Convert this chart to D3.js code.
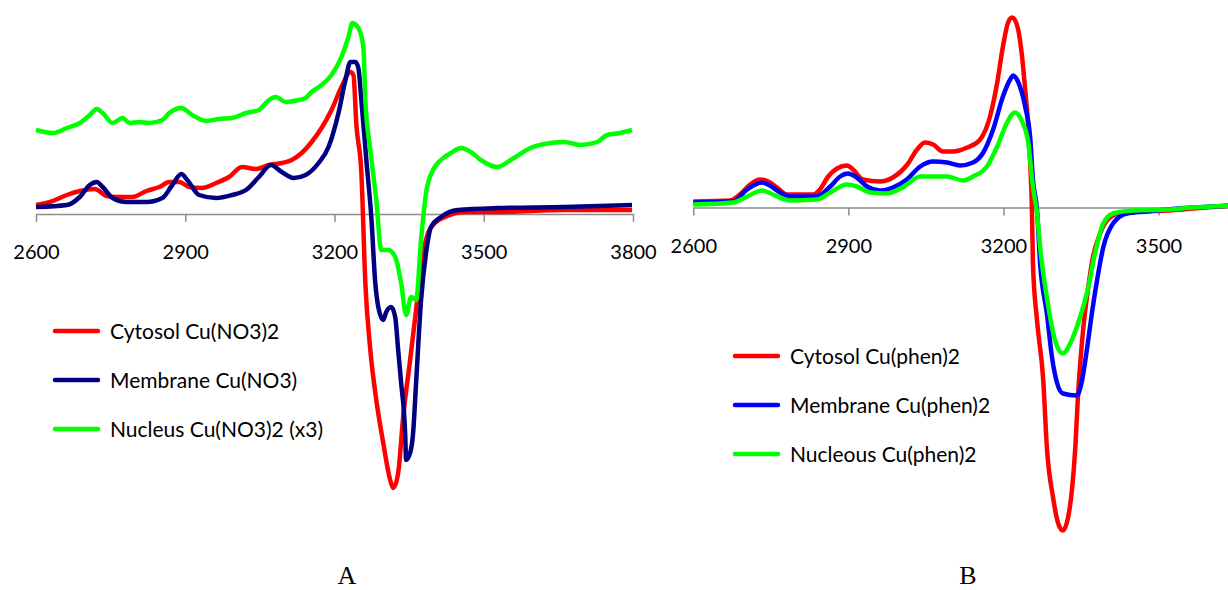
<!DOCTYPE html>
<html>
<head>
<meta charset="utf-8">
<script src="https://cdn.jsdelivr.net/npm/d3@7"></script>
<style>
  body { margin: 0; background: #fff; }
  svg { display: block; }
</style>
</head>
<body>
<svg id="chart" width="1228" height="590"></svg>
<script>
// magnetic field ticks
var ticksA = [2600, 2900, 3200, 3500, 3800];
var ticksB = [2600, 2900, 3200, 3500];

// panel A : Cu(NO3)2, [field, intensity (a.u.)]
var cytosolNO3 = [[2600,0.09],[2628,0.12],[2662,0.19],[2688,0.23],[2718,0.25],[2742,0.18],[2762,0.17],[2794,0.17],
  [2822,0.23],[2848,0.27],[2868,0.32],[2888,0.32],[2908,0.27],[2934,0.26],[2962,0.31],[2988,0.37],[3014,0.47],
  [3042,0.45],[3068,0.49],[3094,0.51],[3114,0.54],[3134,0.61],[3154,0.72],[3174,0.86],[3194,1.04],[3214,1.27],
  [3232,1.42],[3238,1.39],[3244,0.89],[3254,0.41],[3262,-0.69],[3272,-1.36],[3284,-1.86],[3298,-2.29],[3312,-2.66],
  [3318,-2.74],[3328,-2.59],[3338,-2.03],[3352,-1.46],[3364,-0.96],[3374,-0.53],[3388,-0.19],[3402,-0.09],
  [3422,-0.03],[3462,0.02],[3528,0.02],[3662,0.04],[3798,0.04]];
var membraneNO3 = [[2600,0.07],[2662,0.09],[2688,0.17],[2708,0.29],[2722,0.32],[2734,0.27],[2754,0.16],[2782,0.12],
  [2822,0.12],[2854,0.16],[2874,0.29],[2892,0.40],[2904,0.34],[2928,0.19],[2962,0.16],[2994,0.19],[3022,0.24],
  [3048,0.37],[3072,0.49],[3094,0.42],[3118,0.36],[3142,0.39],[3168,0.51],[3188,0.67],[3208,1.01],[3222,1.34],
  [3232,1.52],[3242,1.52],[3248,1.46],[3254,1.14],[3264,0.54],[3274,-0.03],[3282,-0.69],[3288,-0.93],[3298,-1.06],
  [3304,-0.98],[3314,-0.93],[3322,-1.03],[3328,-1.36],[3334,-1.69],[3342,-2.19],[3344,-2.46],[3352,-2.39],
  [3358,-2.19],[3364,-1.69],[3374,-0.86],[3384,-0.39],[3394,-0.13],[3414,-0.03],[3448,0.04],[3528,0.06],
  [3662,0.07],[3798,0.09]];
var nucleusNO3 = [[2600,0.84],[2634,0.81],[2662,0.86],[2688,0.91],[2708,0.99],[2722,1.05],[2734,1.01],[2754,0.91],
  [2774,0.96],[2788,0.91],[2808,0.92],[2828,0.91],[2854,0.94],[2868,1.01],[2892,1.06],[2914,0.99],[2942,0.93],
  [2968,0.95],[2994,0.96],[3022,1.01],[3048,1.04],[3068,1.14],[3082,1.17],[3102,1.12],[3128,1.14],[3142,1.16],
  [3154,1.22],[3174,1.29],[3194,1.39],[3214,1.57],[3228,1.77],[3236,1.91],[3248,1.86],[3258,1.67],[3262,1.14],
  [3272,0.64],[3284,0.14],[3294,-0.36],[3308,-0.36],[3322,-0.43],[3334,-0.69],[3344,-1.01],[3354,-0.83],
  [3364,-0.86],[3374,-0.26],[3384,0.21],[3398,0.44],[3414,0.54],[3434,0.61],[3454,0.66],[3474,0.62],[3494,0.54],
  [3528,0.47],[3554,0.54],[3594,0.66],[3634,0.71],[3662,0.72],[3694,0.69],[3728,0.72],[3748,0.79],[3774,0.81],
  [3798,0.84]];

// panel B : Cu(phen)2
var cytosolPhen = [[2600,0.06],[2671,0.07],[2690,0.13],[2710,0.23],[2729,0.28],[2745,0.26],[2762,0.20],[2781,0.13],
  [2832,0.13],[2845,0.18],[2861,0.31],[2878,0.39],[2897,0.42],[2909,0.38],[2928,0.28],[2961,0.26],[2986,0.30],
  [3014,0.43],[3033,0.58],[3048,0.65],[3064,0.63],[3083,0.56],[3102,0.56],[3130,0.60],[3155,0.68],[3174,0.91],
  [3188,1.25],[3199,1.61],[3209,1.85],[3217,1.90],[3227,1.81],[3236,1.51],[3242,1.18],[3248,0.81],[3252,0.41],
  [3255,0.01],[3257,-0.56],[3265,-1.13],[3277,-1.73],[3284,-2.40],[3296,-2.90],[3306,-3.16],[3315,-3.23],
  [3325,-3.10],[3333,-2.80],[3339,-2.40],[3344,-1.90],[3354,-1.23],[3364,-0.80],[3373,-0.50],[3387,-0.26],
  [3406,-0.10],[3431,-0.05],[3470,-0.04],[3516,-0.03],[3567,-0.01],[3640,0.02]];
var membranePhen = [[2600,0.05],[2677,0.06],[2704,0.18],[2733,0.25],[2748,0.22],[2768,0.15],[2787,0.11],[2839,0.11],
  [2865,0.21],[2884,0.31],[2899,0.34],[2916,0.30],[2936,0.21],[2961,0.17],[2986,0.20],[3013,0.28],[3039,0.41],
  [3064,0.46],[3091,0.45],[3116,0.42],[3141,0.45],[3161,0.55],[3180,0.78],[3199,1.11],[3213,1.28],[3219,1.32],
  [3228,1.26],[3242,1.01],[3252,0.68],[3257,0.28],[3265,-0.03],[3271,-0.56],[3284,-1.06],[3294,-1.50],
  [3304,-1.76],[3315,-1.86],[3342,-1.88],[3352,-1.73],[3362,-1.40],[3371,-1.06],[3381,-0.73],[3393,-0.40],
  [3412,-0.16],[3439,-0.06],[3478,-0.04],[3516,-0.02],[3567,0.00],[3640,0.02]];
var nucleousPhen = [[2600,0.03],[2677,0.05],[2704,0.11],[2733,0.17],[2754,0.13],[2787,0.07],[2839,0.08],[2865,0.15],
  [2897,0.23],[2916,0.21],[2942,0.15],[2974,0.14],[3005,0.20],[3039,0.31],[3064,0.31],[3091,0.31],[3122,0.27],
  [3141,0.31],[3168,0.41],[3188,0.61],[3207,0.85],[3222,0.95],[3236,0.86],[3248,0.65],[3257,0.21],[3265,-0.06],
  [3271,-0.40],[3284,-0.90],[3300,-1.33],[3315,-1.46],[3329,-1.36],[3348,-1.10],[3364,-0.80],[3377,-0.46],
  [3393,-0.16],[3412,-0.06],[3451,-0.03],[3516,-0.02],[3567,0.00],[3640,0.02]];

var namesA = ["Cytosol Cu(NO3)2", "Membrane Cu(NO3)", "Nucleus Cu(NO3)2 (x3)"];
var namesB = ["Cytosol Cu(phen)2", "Membrane Cu(phen)2", "Nucleous Cu(phen)2"];

var svg = d3.select("#chart");
svg.append("rect").attr("width", 1228).attr("height", 590).attr("fill", "#fff");

var FONT = "Lato, 'Open Sans', sans-serif";

function drawPanel(p)
{
    var x = d3.scaleLinear().domain([2600, 3800]).range(p.xRange);
    var y = d3.scaleLinear().domain([-3.5, 2]).range([p.axisY + 350, p.axisY - 200]);

    var g = svg.append("g");

    // x axis crossing at zero
    var axis = d3.axisBottom(x)
        .tickValues(p.ticks)
        .tickFormat(d3.format("d"))
        .tickSize(8)
        .tickSizeOuter(0)
        .tickPadding(23);
    var ax = g.append("g")
        .attr("transform", "translate(0," + p.axisY + ")")
        .call(axis);
    ax.select(".domain").attr("stroke", "#8c8c8c").attr("stroke-width", 1.5);
    ax.selectAll(".tick line").attr("stroke", "#8c8c8c").attr("stroke-width", 1.5);
    ax.selectAll(".tick text")
        .attr("fill", "#000")
        .style("font-family", FONT)
        .style("font-size", "20px");

    var line = d3.line()
        .x(function(d) { return x(d[0]); })
        .y(function(d) { return y(d[1]); })
        .curve(d3.curveMonotoneX);

    p.series.forEach(function(s, i) {
        g.append("path")
            .datum(s)
            .attr("d", line)
            .attr("fill", "none")
            .attr("stroke", p.colors[i])
            .attr("stroke-width", 4.5)
            .attr("stroke-linejoin", "round");
    });

    // legend
    var lg = g.append("g").attr("transform", "translate(" + p.legend[0] + "," + p.legend[1] + ")");
    p.names.forEach(function(n, i) {
        var row = lg.append("g").attr("transform", "translate(0," + (i * 49) + ")");
        row.append("line")
            .attr("x1", 0).attr("x2", 43)
            .attr("stroke", p.colors[i])
            .attr("stroke-width", 4.5)
            .attr("stroke-linecap", "round");
        row.append("text")
            .attr("x", 55)
            .attr("dy", "0.36em")
            .style("font-family", FONT)
            .style("font-size", "21px")
            .attr("fill", "#000")
            .text(n);
    });

    // panel letter
    g.append("text")
        .attr("x", p.letter[0]).attr("y", p.letter[1])
        .attr("text-anchor", "middle")
        .style("font-family", "'Liberation Serif', 'Times New Roman', serif")
        .style("font-size", "26px")
        .attr("fill", "#000")
        .text(p.label);
}

drawPanel({
    xRange: [36, 633], axisY: 214, ticks: ticksA,
    series: [cytosolNO3, membraneNO3, nucleusNO3],
    colors: ["#ff0000", "#000080", "#00ff00"],
    names: namesA, legend: [55, 331], letter: [347, 584], label: "A"
});
drawPanel({
    xRange: [693.3, 1313.6], axisY: 207.5, ticks: ticksB,
    series: [cytosolPhen, membranePhen, nucleousPhen],
    colors: ["#ff0000", "#0000ff", "#00ff00"],
    names: namesB, legend: [735, 356], letter: [968, 584], label: "B"
});
</script>
</body>
</html>
